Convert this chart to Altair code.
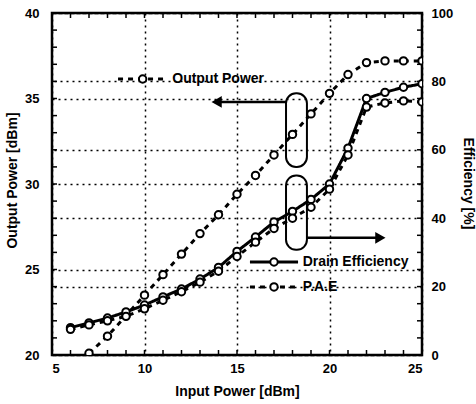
import altair as alt
import pandas as pd

# ---------------- data ----------------
out_x = [7, 8, 9, 10, 11, 12, 13, 14, 15, 16, 17, 18, 19, 20, 21, 22, 23, 24, 25]
out_power = [20.1, 21.1, 22.3, 23.5, 24.7, 25.9, 27.1, 28.2, 29.4, 30.5, 31.7, 32.9,
             34.1, 35.3, 36.4, 37.1, 37.2, 37.2, 37.2]

eff_x = [6, 7, 8, 9, 10, 11, 12, 13, 14, 15, 16, 17, 18, 19, 20, 21, 22, 23, 24, 25]
drain_eff = [8.0, 9.4, 10.8, 12.6, 14.6, 17.0, 19.3, 22.2, 25.6, 30.3, 34.5, 38.9,
             42.0, 45.5, 50.0, 60.5, 75.0, 76.8, 78.3, 79.3]
pae = [7.5, 8.8, 10.0, 11.3, 13.5, 16.0, 18.5, 21.3, 24.5, 28.8, 33.0, 37.0,
       40.0, 43.2, 48.5, 58.5, 72.5, 73.7, 74.3, 74.0]

x_ticks = [5, 10, 15, 20, 25]
left_ticks = [20, 25, 30, 35, 40]
right_ticks = [0, 20, 40, 60, 80, 100]
x_minor = list(range(5, 26))
left_minor = list(range(20, 41))
right_minor = list(range(0, 101, 5))

# in-plot legend entries
leg_labels = ["Output Power", "Drain Efficiency", "P.A.E"]
leg_x0 = [8.57, 15.7, 15.7]
leg_x1 = [11.27, 18.3, 18.3]
leg_xm = [9.9, 17.0, 17.0]
leg_xt = [11.5, 18.55, 18.55]
leg_y = [36.14, 27.2, 19.9]

# annotation ellipses (in input power / output power units)
oval_x0 = [17.65, 17.65]
oval_x1 = [18.78, 18.78]
oval_y0 = [35.3, 30.5]
oval_y1 = [31.0, 26.15]
# arrows: start, tip, level (output power units)
arrow_x0 = [17.7, 18.78]
arrow_x1 = [13.9, 22.75]
arrow_y = [34.8, 26.85]
arrow_shape = ["triangle-left", "triangle-right"]

W, H = 370, 342
FONT = "Liberation Sans"

xs = alt.Scale(domain=[5, 25], nice=False, zero=False)
ls = alt.Scale(domain=[20, 40], nice=False, zero=False)
rs = alt.Scale(domain=[0, 100], nice=False)

x_axis = alt.Axis(values=x_ticks, ticks=False, grid=True, title="Input Power [dBm]",
                  labelPadding=7, titleX=185, titleY=36, titleBaseline="middle",
                  titleAlign="center", domain=False)
l_axis = alt.Axis(values=left_ticks, ticks=False, grid=True, title="Output Power [dBm]",
                  orient="left", labelPadding=13, titleX=-40, titleY=167,
                  titleBaseline="middle", titleAlign="center", titleAngle=270, domain=False)
r_axis = alt.Axis(values=right_ticks, ticks=False, grid=True, title="Efficiency [%]",
                  orient="right", labelPadding=9, titleX=45, titleY=170,
                  titleBaseline="middle", titleAlign="center", titleAngle=90, domain=False)


def X(field):
    # every layer carries the same x-axis definition so the shared axis merges cleanly
    return alt.X(field, scale=xs, axis=x_axis)


dash_scale = alt.Scale(domain=["Drain Efficiency", "P.A.E"], range=[[1, 0], [5, 5]])

# ---------- output power ----------
df_out = pd.DataFrame({"x": out_x, "y": out_power})
out_line = alt.Chart(df_out).mark_line(color="black", strokeWidth=3, strokeDash=[5, 5], clip=True).encode(
    x=X("x:Q"),
    y=alt.Y("y:Q", scale=ls, axis=l_axis),
)
out_pts = alt.Chart(df_out).mark_point(shape="circle", filled=True, fill="white", stroke="black",
                                       strokeWidth=2, size=55, opacity=1, clip=True).encode(
    x=X("x:Q"),
    y=alt.Y("y:Q", scale=ls, axis=None),
)

# ---------- efficiency ----------
df_eff = pd.DataFrame({"x": eff_x + eff_x, "y": drain_eff + pae,
                       "s": ["Drain Efficiency"] * len(eff_x) + ["P.A.E"] * len(eff_x)})
eff_line = alt.Chart(df_eff).mark_line(color="black", strokeWidth=3, clip=True).encode(
    x=X("x:Q"),
    y=alt.Y("y:Q", scale=rs, axis=r_axis),
    detail="s:N",
    strokeDash=alt.StrokeDash("s:N", scale=dash_scale, legend=None),
)
eff_pts = alt.Chart(df_eff).mark_point(shape="circle", filled=True, fill="white", stroke="black",
                                       strokeWidth=2, size=55, opacity=1, clip=True).encode(
    x=X("x:Q"), y=alt.Y("y:Q", scale=rs, axis=None))

# ---------- inward ticks ----------
df_ltick = pd.DataFrame({"y": left_minor})
l_ticks = alt.Chart(df_ltick).mark_rule(color="black", strokeWidth=1.5).encode(
    y=alt.Y("y:Q", scale=ls, axis=None), x=alt.value(0), x2=alt.value(5))
df_rtick = pd.DataFrame({"y": right_minor})
r_ticks = alt.Chart(df_rtick).mark_rule(color="black", strokeWidth=1.5).encode(
    y=alt.Y("y:Q", scale=rs, axis=None), x=alt.value(W - 5), x2=alt.value(W))
df_xtick = pd.DataFrame({"x": x_minor})
top_ticks = alt.Chart(df_xtick).mark_rule(color="black", strokeWidth=1.5).encode(
    x=X("x:Q"), y=alt.value(0), y2=alt.value(5))
bot_ticks = alt.Chart(df_xtick).mark_rule(color="black", strokeWidth=1.5).encode(
    x=X("x:Q"), y=alt.value(H - 5), y2=alt.value(H))

# ---------- in-plot legend ----------
df_leg_l = pd.DataFrame({"x0": leg_x0[:1], "x1": leg_x1[:1], "xm": leg_xm[:1],
                         "xt": leg_xt[:1], "y": leg_y[:1], "t": leg_labels[:1]})
leg_l_line = alt.Chart(df_leg_l).mark_rule(color="black", strokeWidth=3, strokeDash=[5, 5]).encode(
    x=X("x0:Q"), x2="x1:Q", y=alt.Y("y:Q", scale=ls, axis=None))
leg_l_pt = alt.Chart(df_leg_l).mark_point(shape="circle", filled=True, fill="white", stroke="black",
                                          strokeWidth=2, size=55, opacity=1).encode(
    x=X("xm:Q"), y=alt.Y("y:Q", scale=ls, axis=None))
leg_l_txt = alt.Chart(df_leg_l).mark_text(align="left", baseline="middle", font=FONT,
                                          fontWeight="bold", fontSize=14, color="black").encode(
    x=X("xt:Q"), y=alt.Y("y:Q", scale=ls, axis=None), text="t:N")

df_leg_r = pd.DataFrame({"x0": leg_x0[1:], "x1": leg_x1[1:], "xm": leg_xm[1:],
                         "xt": leg_xt[1:], "y": leg_y[1:], "t": leg_labels[1:]})
leg_r_line = alt.Chart(df_leg_r).mark_rule(color="black", strokeWidth=3).encode(
    x=X("x0:Q"), x2="x1:Q", y=alt.Y("y:Q", scale=rs, axis=None),
    strokeDash=alt.StrokeDash("t:N", scale=dash_scale, legend=None))
leg_r_pt = alt.Chart(df_leg_r).mark_point(shape="circle", filled=True, fill="white", stroke="black",
                                          strokeWidth=2, size=55, opacity=1).encode(
    x=X("xm:Q"), y=alt.Y("y:Q", scale=rs, axis=None))
leg_r_txt = alt.Chart(df_leg_r).mark_text(align="left", baseline="middle", font=FONT,
                                          fontWeight="bold", fontSize=14, color="black").encode(
    x=X("xt:Q"), y=alt.Y("y:Q", scale=rs, axis=None), text="t:N")

# ---------- ovals and arrows ----------
df_oval = pd.DataFrame({"x0": oval_x0, "x1": oval_x1, "y0": oval_y0, "y1": oval_y1})
ovals = alt.Chart(df_oval).mark_rect(fill="white", fillOpacity=0, stroke="black", strokeWidth=2,
                                     cornerRadius=10).encode(
    x=X("x0:Q"), x2="x1:Q",
    y=alt.Y("y0:Q", scale=ls, axis=None), y2="y1:Q")

df_arrow = pd.DataFrame({"x0": arrow_x0, "x1": arrow_x1, "y": arrow_y, "s": arrow_shape})
arrow_lines = alt.Chart(df_arrow).mark_rule(color="black", strokeWidth=2.5).encode(
    x=X("x0:Q"), x2="x1:Q", y=alt.Y("y:Q", scale=ls, axis=None))
arrow_heads = alt.Chart(df_arrow).mark_point(filled=True, color="black", size=140, opacity=1).encode(
    x=X("x1:Q"), y=alt.Y("y:Q", scale=ls, axis=None),
    shape=alt.Shape("s:N", scale=None))

chart = alt.layer(
    out_line, eff_line, l_ticks, r_ticks, top_ticks, bot_ticks, ovals, arrow_lines, arrow_heads,
    leg_l_line, leg_r_line, leg_l_txt, leg_r_txt, out_pts, eff_pts, leg_l_pt, leg_r_pt,
).resolve_scale(y="independent").properties(
    width=W, height=H,
    autosize=alt.AutoSizeParams(type="none"),
    padding={"left": 52, "top": 13, "right": 54, "bottom": 49},
    background="white",
).configure_view(stroke="black", strokeWidth=2.5).configure_axis(
    labelFont=FONT, labelFontWeight="bold", labelFontSize=13, labelColor="black",
    titleFont=FONT, titleFontWeight="bold", titleFontSize=14, titleColor="black",
    gridColor="black", gridDash=[2, 4], gridWidth=1.5, gridOpacity=1,
)

chart.save("out.html", embed_options={"renderer": "svg", "actions": False})
